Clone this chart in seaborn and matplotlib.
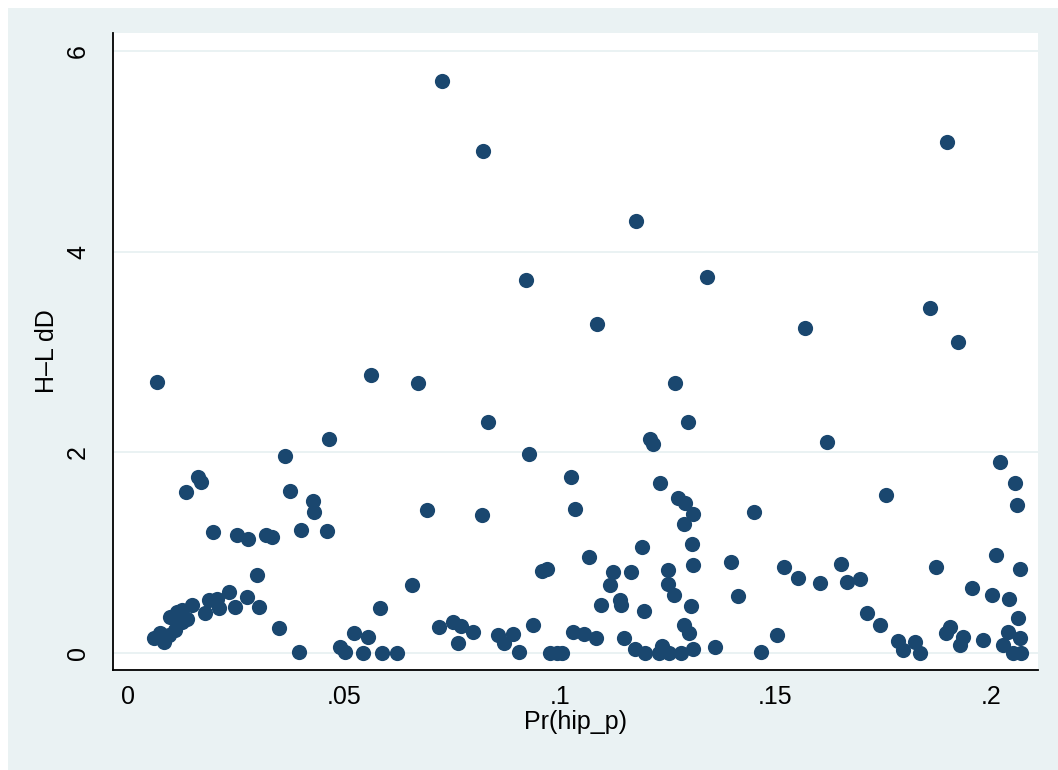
import matplotlib
matplotlib.use("Agg")
import matplotlib.pyplot as plt
from matplotlib.patches import Rectangle
import seaborn as sns
import pandas as pd

# Data
pr_hip_p = [
    0.0065, 0.0728, 0.0823, 0.1177, 0.0922, 0.1342, 0.1087, 0.1569, 0.1859, 0.1923,
    0.1898, 0.0563, 0.0672, 0.1268, 0.0834, 0.1297, 0.0464, 0.1210, 0.1217, 0.1619,
    0.0928, 0.0362, 0.2022, 0.1027, 0.1233, 0.2055, 0.1756, 0.01615, 0.01685, 0.0134,
    0.0374, 0.0428, 0.0430, 0.1275, 0.1291, 0.1310, 0.2061, 0.0692, 0.0820, 0.1036,
    0.1451, 0.1289, 0.0195, 0.0400, 0.0460, 0.0252, 0.0276, 0.0319, 0.0333, 0.1306,
    0.1190, 0.1067, 0.1397, 0.1652, 0.1308, 0.1519, 0.1872, 0.2067, 0.0959, 0.0970,
    0.1123, 0.1166, 0.1250, 0.0297, 0.1553, 0.1604, 0.1667, 0.1697, 0.2011, 0.1116,
    0.1250, 0.0657, 0.1265, 0.1414, 0.1956, 0.2003, 0.2042, 0.1096, 0.1140, 0.1142,
    0.1304, 0.1196, 0.0584, 0.2063, 0.1713, 0.1743, 0.1289, 0.1300, 0.1030, 0.1057,
    0.1085, 0.1149, 0.1360, 0.1503, 0.1467, 0.1006, 0.1175, 0.1198, 0.1237, 0.1231,
    0.1254, 0.1281, 0.1308, 0.0348, 0.0395, 0.0491, 0.0503, 0.0522, 0.0555, 0.0543,
    0.0589, 0.0623, 0.0721, 0.0752, 0.0771, 0.0799, 0.0763, 0.0858, 0.0870, 0.0892,
    0.0905, 0.0938, 0.0978, 0.0993, 0.1784, 0.1797, 0.1824, 0.1835, 0.1905, 0.1896,
    0.1936, 0.1927, 0.1981, 0.2039, 0.2067, 0.2028, 0.2050, 0.2069,
    0.0059, 0.0074, 0.0082, 0.0094, 0.0109, 0.0124, 0.0097, 0.0113, 0.0124, 0.0136,
    0.0148, 0.0178, 0.0186, 0.0206, 0.0209, 0.0233, 0.0248, 0.0275, 0.0302,
]
hl_dd = [
    2.70, 5.70, 5.00, 4.30, 3.72, 3.75, 3.28, 3.24, 3.44, 3.10,
    5.09, 2.77, 2.69, 2.69, 2.30, 2.30, 2.13, 2.13, 2.08, 2.10,
    1.98, 1.96, 1.90, 1.75, 1.69, 1.69, 1.57, 1.75, 1.70, 1.60,
    1.61, 1.51, 1.41, 1.54, 1.49, 1.39, 1.47, 1.42, 1.38, 1.43,
    1.41, 1.29, 1.21, 1.23, 1.22, 1.18, 1.14, 1.18, 1.16, 1.09,
    1.06, 0.96, 0.91, 0.89, 0.88, 0.86, 0.86, 0.84, 0.82, 0.84,
    0.81, 0.81, 0.83, 0.78, 0.75, 0.70, 0.71, 0.735, 0.98, 0.675,
    0.685, 0.68, 0.576, 0.566, 0.65, 0.576, 0.536, 0.477, 0.526, 0.48,
    0.467, 0.42, 0.45, 0.354, 0.394, 0.275, 0.278, 0.195, 0.205, 0.186,
    0.146, 0.146, 0.063, 0.179, 0.013, 0.0, 0.037, 0.0, 0.07, 0.0,
    0.0, 0.0, 0.037, 0.251, 0.007, 0.056, 0.007, 0.202, 0.156, 0.0,
    0.0, 0.0, 0.262, 0.311, 0.268, 0.212, 0.096, 0.179, 0.096, 0.186,
    0.013, 0.278, 0.0, 0.0, 0.122, 0.03, 0.109, 0.0, 0.261, 0.195,
    0.162, 0.076, 0.129, 0.205, 0.152, 0.076, 0.0, 0.0,
    0.146, 0.195, 0.106, 0.179, 0.228, 0.311, 0.361, 0.41, 0.427, 0.344,
    0.477, 0.394, 0.526, 0.543, 0.444, 0.609, 0.46, 0.56, 0.46,
]

x_ticks = [0, 0.05, 0.1, 0.15, 0.2]
x_tick_labels = ["0", ".05", ".1", ".15", ".2"]
y_ticks = [0, 2, 4, 6]
y_tick_labels = ["0", "2", "4", "6"]

df = pd.DataFrame({"Pr(hip_p)": pr_hip_p, "H\u2013L dD": hl_dd})

sns.set_theme(style="white")
plt.rcParams["font.family"] = ["Liberation Sans", "DejaVu Sans"]

W, H = 1058, 770
fig = plt.figure(figsize=(W / 100, H / 100), dpi=100)
fig.patch.set_facecolor("white")
fig.patches.append(Rectangle((8 / W, 0), 1 - 8 / W, 1 - 8 / H, transform=fig.transFigure,
                             facecolor="#EAF2F3", edgecolor="none", zorder=-10))

left, right, top, bottom = 113, 1038, 33, 670
ax = fig.add_axes([left / W, 1 - bottom / H, (right - left) / W, (bottom - top) / H])
ax.set_facecolor("white")

for yt in y_ticks:
    ax.axhline(yt, color="#EAF2F3", linewidth=1.4, zorder=0)

sns.scatterplot(data=df, x="Pr(hip_p)", y="H\u2013L dD", color="#1A476F", s=120,
                linewidth=0, alpha=1, ax=ax, zorder=3)

ax.set_xlim(-0.00359, 0.2109)
ax.set_ylim(-0.169, 6.177)

ax.set_xticks(x_ticks)
ax.set_xticklabels(x_tick_labels)
ax.set_yticks(y_ticks)
ax.set_yticklabels(y_tick_labels, rotation=90, va="center")

for s in ["top", "right"]:
    ax.spines[s].set_visible(False)
for s in ["left", "bottom"]:
    ax.spines[s].set_color("black")
    ax.spines[s].set_linewidth(1.3)

ax.tick_params(axis="both", direction="out", length=7.5, width=1.1, color="black",
               labelsize=18, labelcolor="black")
ax.tick_params(axis="x", pad=3)
ax.tick_params(axis="y", pad=9)
ax.grid(False)

ax.set_xlabel("Pr(hip_p)", fontsize=18, color="black", labelpad=1)
ax.set_ylabel("H\u2013L dD", fontsize=18, color="black", labelpad=5)

fig.savefig("out.png", dpi=100, facecolor=fig.get_facecolor())
